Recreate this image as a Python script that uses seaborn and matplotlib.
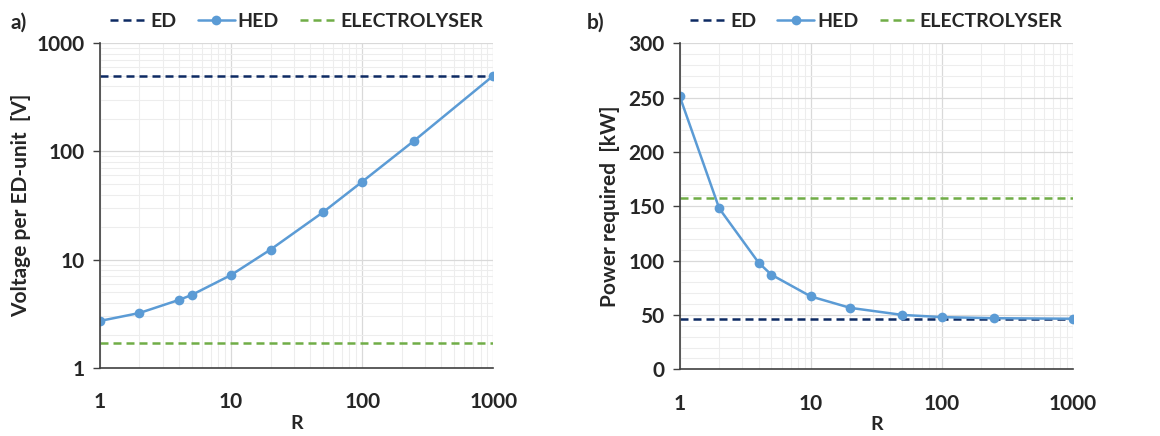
import matplotlib
matplotlib.use("Agg")
import matplotlib.pyplot as plt
import matplotlib.ticker as mticker
import seaborn as sns
import numpy as np
import pandas as pd

# data
r_values = [1, 2, 4, 5, 10, 20, 50, 100, 250, 1000]
hed_voltage = [2.72, 3.22, 4.25, 4.72, 7.22, 12.4, 27.3, 52.5, 126, 500]
ed_voltage = 500
electrolyser_voltage = 1.7

hed_power = [251, 148, 98, 87, 67, 56.5, 50, 48, 47, 46.5]
ed_power = 46.5
electrolyser_power = 157.5

x_ticks = [1, 10, 100, 1000]
y_ticks_a = [1, 10, 100, 1000]
y_ticks_b = [0, 50, 100, 150, 200, 250, 300]

ED_COLOR = "#0D2A63"
HED_COLOR = "#5B9BD5"
EL_COLOR = "#70AD47"
DASH = (0, (3.2, 2))

sns.set_style("white")
plt.rcParams["font.family"] = ["Lato", "DejaVu Sans"]
plt.rcParams["font.weight"] = "bold"
plt.rcParams["axes.labelweight"] = "bold"


def style_axis(ax, log_y):
    ax.set_xscale("log")
    ax.set_xlim(1, 1000)
    ax.set_xticks(x_ticks)
    ax.xaxis.set_major_formatter(mticker.FuncFormatter(lambda v, p: f"{v:g}"))
    ax.xaxis.set_minor_locator(mticker.LogLocator(base=10, subs=np.arange(2, 10)))
    ax.xaxis.set_minor_formatter(mticker.NullFormatter())
    if log_y:
        ax.yaxis.set_minor_locator(mticker.LogLocator(base=10, subs=np.arange(2, 10)))
        ax.yaxis.set_minor_formatter(mticker.NullFormatter())
    ax.grid(True, which="major", color="#D9D9D9", linewidth=0.9)
    ax.grid(True, which="minor", color="#EDEDED", linewidth=0.8)
    for side in ["top", "right"]:
        ax.spines[side].set_visible(False)
    for side in ["left", "bottom"]:
        ax.spines[side].set_color("#404040")
        ax.spines[side].set_linewidth(1.2)
    ax.tick_params(axis="y", which="major", left=True, length=5, width=1, color="#404040",
                   labelsize=15, pad=6)
    ax.tick_params(axis="y", which="minor", left=False)
    ax.tick_params(axis="x", which="both", bottom=False, labelsize=15, pad=14)
    ax.set_xlabel("R", fontsize=14, fontweight="bold", labelpad=2)
    ax.set_axisbelow(True)


def draw_panel(ax, hed, ed_val, el_val):
    df = pd.DataFrame({"R": r_values, "HED": hed})
    ax.plot([1, 1000], [ed_val, ed_val], color=ED_COLOR, linestyle=DASH,
            linewidth=1.8, label="ED")
    sns.lineplot(data=df, x="R", y="HED", ax=ax, color=HED_COLOR, marker="o",
                 markersize=7, markeredgewidth=0, linewidth=1.8, label="HED")
    ax.plot([1, 1000], [el_val, el_val], color=EL_COLOR, linestyle=DASH,
            linewidth=1.8, label="ELECTROLYSER")
    ax.legend(loc="lower center", bbox_to_anchor=(0.5, 1.0), ncol=3, frameon=False,
              fontsize=14, handlelength=1.9, columnspacing=1.1, handletextpad=0.15,
              borderaxespad=0.3)


fig = plt.figure(figsize=(11.6, 4.36), dpi=100)
ax_a = fig.add_axes([0.0862, 0.156, 0.339, 0.745])
ax_b = fig.add_axes([0.586, 0.153, 0.339, 0.748])

draw_panel(ax_a, hed_voltage, ed_voltage, electrolyser_voltage)
ax_a.set_yscale("log")
ax_a.set_ylim(1, 1000)
ax_a.set_yticks(y_ticks_a)
ax_a.yaxis.set_major_formatter(mticker.FuncFormatter(lambda v, p: f"{v:g}"))
style_axis(ax_a, log_y=True)
ax_a.set_ylabel("Voltage per ED-unit  [V]", fontsize=15, fontweight="bold", labelpad=4)

draw_panel(ax_b, hed_power, ed_power, electrolyser_power)
ax_b.set_ylim(0, 300)
ax_b.set_yticks(y_ticks_b)
ax_b.yaxis.set_minor_locator(mticker.MultipleLocator(10))
style_axis(ax_b, log_y=False)
ax_b.tick_params(axis="y", which="minor", left=False)
ax_b.set_ylabel("Power required  [kW]", fontsize=15, fontweight="bold", labelpad=6)

fig.text(0.009, 0.935, "a)", fontsize=15, fontweight="bold")
fig.text(0.506, 0.935, "b)", fontsize=15, fontweight="bold")

fig.savefig("out.png", dpi=100)
